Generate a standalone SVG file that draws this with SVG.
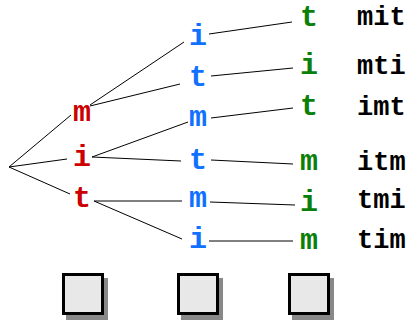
<svg xmlns="http://www.w3.org/2000/svg" width="407" height="320" viewBox="0 0 407 320">
  <style>
    .l { fill: none; stroke: #000; stroke-width: 1; }
    .n { font-family: "Liberation Mono", "Courier New", monospace; font-weight: bold; font-size: 30px; text-anchor: middle; }
    .r { fill: #cc0000; }
    .b { fill: #1070ff; }
    .g { fill: #0a800a; }
    .w { font-family: "Liberation Mono", "Courier New", monospace; font-weight: bold; font-size: 27px; fill: #000; }
    .box { fill: #e8e8e8; stroke: #000; stroke-width: 3; }
    .shadow { fill: #888; }
  </style>
  <rect width="407" height="320" fill="#fff"/>

  <!-- tree edges -->
  <g id="connectors">
    <line class="l" x1="9" y1="167" x2="71" y2="115"/>
    <line class="l" x1="9" y1="167" x2="67" y2="159"/>
    <line class="l" x1="9" y1="167" x2="70" y2="194"/>
    <line class="l" x1="90" y1="105" x2="184" y2="42"/>
    <line class="l" x1="90" y1="106" x2="180" y2="84"/>
    <line class="l" x1="92" y1="157" x2="188" y2="122"/>
    <line class="l" x1="92" y1="157" x2="181" y2="161"/>
    <line class="l" x1="94" y1="201" x2="182" y2="201"/>
    <line class="l" x1="94" y1="201" x2="182" y2="239"/>
    <line class="l" x1="209" y1="34" x2="292" y2="22"/>
    <line class="l" x1="211" y1="76" x2="293" y2="68"/>
    <line class="l" x1="211" y1="118" x2="293" y2="108"/>
    <line class="l" x1="211" y1="160" x2="293" y2="164"/>
    <line class="l" x1="210" y1="202" x2="295" y2="205"/>
    <line class="l" x1="209" y1="241" x2="293" y2="241"/>
  </g>

  <!-- first letter -->
  <g id="n-m"><text class="n r" x="82" y="121">m</text></g>
  <g id="n-i"><text class="n r" x="82" y="166">i</text></g>
  <g id="n-t"><text class="n r" x="82" y="207">t</text></g>

  <!-- second letter -->
  <g id="n-mi"><text class="n b" x="198" y="45">i</text></g>
  <g id="n-mt"><text class="n b" x="198" y="86">t</text></g>
  <g id="n-im"><text class="n b" x="198" y="126">m</text></g>
  <g id="n-it"><text class="n b" x="198" y="169">t</text></g>
  <g id="n-tm"><text class="n b" x="198" y="207">m</text></g>
  <g id="n-ti"><text class="n b" x="198" y="248">i</text></g>

  <!-- third letter -->
  <g id="n-mit"><text class="n g" x="309" y="26">t</text></g>
  <g id="n-mti"><text class="n g" x="309" y="74">i</text></g>
  <g id="n-imt"><text class="n g" x="309" y="115">t</text></g>
  <g id="n-itm"><text class="n g" x="309" y="170">m</text></g>
  <g id="n-tmi"><text class="n g" x="309" y="211">i</text></g>
  <g id="n-tim"><text class="n g" x="309" y="249">m</text></g>

  <!-- resulting permutations -->
  <g id="words">
    <text class="w" x="357" y="25">mit</text>
    <text class="w" x="357" y="74">mti</text>
    <text class="w" x="357" y="115">imt</text>
    <text class="w" x="357" y="170">itm</text>
    <text class="w" x="357" y="208">tmi</text>
    <text class="w" x="357" y="248">tim</text>
  </g>

  <!-- empty slots -->
  <g id="slot-1">
    <rect class="shadow" x="66" y="278" width="42" height="42"/>
    <rect class="box" x="63.5" y="274.5" width="39" height="39"/>
  </g>
  <g id="slot-2">
    <rect class="shadow" x="181" y="278" width="42" height="42"/>
    <rect class="box" x="178.5" y="274.5" width="39" height="39"/>
  </g>
  <g id="slot-3">
    <rect class="shadow" x="292" y="278" width="42" height="42"/>
    <rect class="box" x="289.5" y="274.5" width="39" height="39"/>
  </g>
</svg>
